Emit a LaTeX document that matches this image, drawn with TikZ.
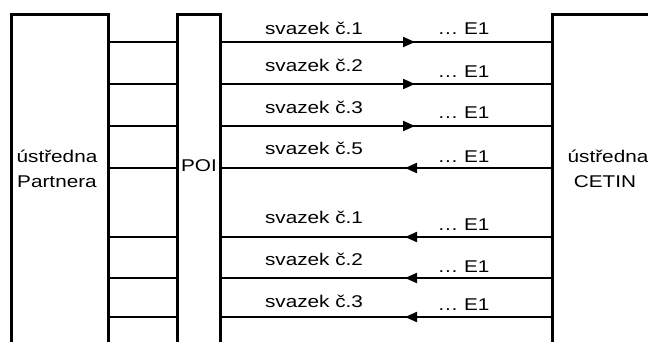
\documentclass[tikz,border=0pt]{standalone}
\usepackage{fontspec}
\setmainfont{Liberation Sans}[FakeStretch=1.22]
\usetikzlibrary{arrows.meta,decorations.markings}

\tikzset{
  unit/.style={draw, line width=3pt, minimum height=346pt, inner sep=0pt},
  wire/.style={line width=2pt},
  txt/.style={font=\fontsize{17}{25}\selectfont, inner sep=0pt, anchor=base},
  fwd/.style={postaction={decorate}, decoration={markings,
      mark=at position 193.5pt with {\arrow{Triangle[length=12pt,width=10pt]}}}},
  bwd/.style={postaction={decorate}, decoration={markings,
      mark=at position 183.5pt with {\arrowreversed{Triangle[length=12pt,width=10pt]}}}}
}

\begin{document}
\begin{tikzpicture}[x=1pt, y=-1pt]
  \useasboundingbox (0,0) rectangle (648,341);
  \clip (0,0) rectangle (648,341);

  % exchanges and POI
  \node[unit, minimum width=96.6pt] (partner) at (60,187) {};
  \node[unit, minimum width=42.3pt] (poi) at (198.85,187) {};
  \node[unit, minimum width=200pt] (cetin) at (652.3,187) {};

  \node[txt] (ptop) at (57,162) {ústředna};
  \node[txt] (pbot) at (57,187) {Partnera};
  \node[txt] (poitxt) at (199,171) {POI};
  \node[txt] (ctop) at (608,162) {ústředna};
  \node[txt] (cbot) at (605,187) {CETIN};

  % bundles
  \foreach \y/\n/\sb/\eb/\dir [count=\i] in {42/1/34/34/fwd, 84/2/71/77/fwd,
      126/3/113/118/fwd, 168/5/154/162/bwd, 237/1/223/230/bwd,
      278/2/265/272/bwd, 317/3/307/310/bwd} {
    \coordinate (row\i) at (0,\y);
    \draw[wire] (partner.east |- row\i) -- (poi.west |- row\i);
    \draw[wire, \dir] (poi.east |- row\i) -- (cetin.west |- row\i);
    \node[txt] (sv\i) at (314,\sb) {svazek č.\n};
    \node[txt] (e\i) at (463.5,\eb) {… E1};
  }
\end{tikzpicture}
\end{document}
